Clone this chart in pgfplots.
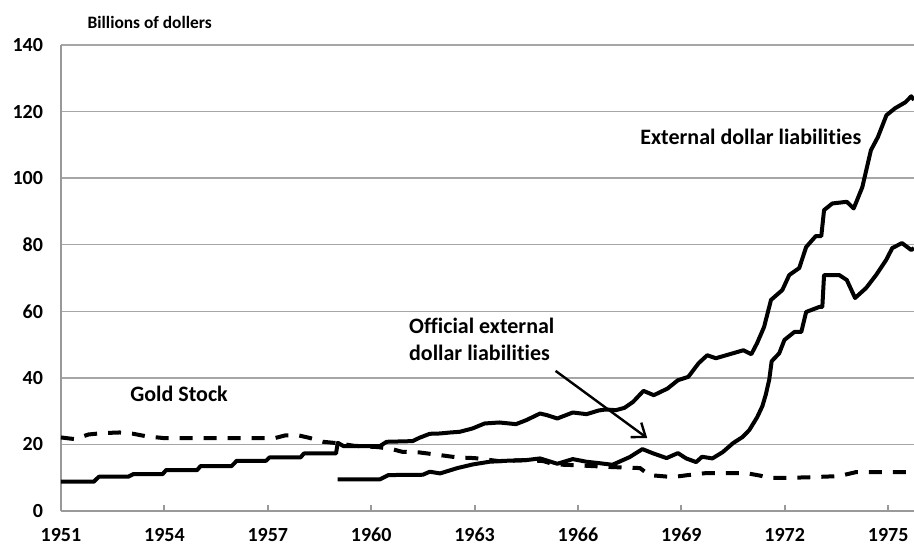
\documentclass[border=0pt]{standalone}
\usepackage{pgfplots}
\pgfplotsset{compat=1.18}
\usepackage{fontspec}
\setmainfont{Carlito}[Ligatures={NoCommon}]
\usetikzlibrary{arrows.meta}
\begin{document}
\begin{tikzpicture}
\begin{axis}[
  width=426.5pt, height=233pt, scale only axis,
  xmin=1951, xmax=1975.75, ymin=0, ymax=140,
  axis x line=bottom, axis y line=left,
  axis line style={-, draw=gray!80, line width=1pt},
  xtick={1951,1954,...,1975}, ytick={0,20,...,140},
  tick align=inside, major tick length=3pt,
  xtick style={draw=gray!80, line width=1pt},
  ytick style={draw=none},
  ymajorgrids, grid style={draw=gray!70, line width=0.7pt},
  /pgf/number format/assume math mode=true,
  xticklabel style={/pgf/number format/1000 sep=, font=\bfseries\fontsize{10}{12}\selectfont, yshift=-5pt},
  yticklabel style={font=\bfseries\fontsize{10}{12}\selectfont, xshift=-5.5pt},
  clip mode=individual,
]
\addplot[black, line width=2pt, line join=round] coordinates {
(1951.0,8.8) (1951.95,8.8) (1952.1,10.3) (1952.95,10.3) (1953.1,11.1) (1953.95,11.1)
(1954.05,12.3) (1954.95,12.3) (1955.05,13.5) (1955.95,13.5) (1956.1,15.1) (1956.95,15.1)
(1957.05,16.1) (1957.95,16.1) (1958.05,17.3) (1958.98,17.3) (1959.03,20.5) (1959.2,19.5)
(1960.25,19.5) (1960.45,20.8) (1961.2,21.0) (1961.4,22.0) (1961.7,23.2) (1962.0,23.3)
(1962.3,23.6) (1962.57,23.8) (1962.94,24.8) (1963.29,26.3) (1963.72,26.6) (1964.2,26.1)
(1964.5,27.3) (1964.9,29.3) (1965.1,28.8) (1965.4,27.8) (1965.85,29.6) (1966.25,29.1)
(1966.6,30.2) (1966.8,30.5) (1967.1,30.3) (1967.35,31.0) (1967.6,32.8) (1967.9,36.1)
(1968.2,34.8) (1968.6,36.8) (1968.9,39.3) (1969.2,40.3) (1969.5,44.4) (1969.75,46.8)
(1970.0,45.9) (1970.5,47.4) (1970.8,48.3) (1971.03,47.1) (1971.2,50.5) (1971.4,55.3)
(1971.6,63.4) (1971.93,66.4) (1972.13,70.9) (1972.42,73.0) (1972.62,79.3) (1972.9,82.6)
(1973.06,82.6) (1973.14,90.4) (1973.38,92.4) (1973.8,92.9) (1974.0,90.9) (1974.25,97.3)
(1974.5,108.4) (1974.7,112.3) (1974.95,118.9) (1975.2,121.0) (1975.5,122.8) (1975.67,124.6)
(1975.75,123.5)
};
\addplot[black, line width=2pt, line join=round] coordinates {
(1959.03,9.5) (1960.25,9.5) (1960.5,10.8) (1961.5,10.9) (1961.7,11.8) (1962.0,11.3)
(1962.5,12.9) (1962.95,14.0) (1963.43,14.8) (1963.93,15.1) (1964.5,15.3) (1964.9,15.8)
(1965.4,14.2) (1965.85,15.6) (1966.25,14.8) (1966.6,14.4) (1967.0,13.9) (1967.5,16.2)
(1967.87,18.6) (1968.16,17.4) (1968.57,15.9) (1968.9,17.4) (1969.14,15.8) (1969.43,14.7)
(1969.6,16.3) (1969.9,15.8) (1970.2,17.7) (1970.5,20.4) (1970.77,22.2) (1970.97,24.3)
(1971.2,28.2) (1971.35,31.5) (1971.45,35.0) (1971.55,39.5) (1971.62,45.0) (1971.84,47.4)
(1971.99,51.4) (1972.28,53.8) (1972.48,53.8) (1972.62,59.8) (1973.0,61.3) (1973.09,61.3)
(1973.14,70.9) (1973.58,70.9) (1973.8,69.4) (1974.04,64.0) (1974.36,67.0) (1974.65,70.9)
(1974.94,75.4) (1975.12,79.0) (1975.4,80.5) (1975.67,78.4) (1975.75,79.0)
};
\addplot[black, line width=2pt, dash pattern=on 6.5pt off 5.5pt] coordinates {
(1951.0,22.1) (1951.4,21.6) (1951.8,23.0) (1952.2,23.4) (1952.7,23.6) (1953.1,23.2)
(1953.5,22.4) (1954.0,21.9) (1957.2,21.9) (1957.5,22.7) (1957.9,22.7) (1958.2,22.0)
(1958.6,20.8) (1959.0,20.4) (1959.5,19.6) (1960.2,19.2) (1960.6,18.6) (1960.9,17.8)
(1961.4,17.6) (1962.0,16.8) (1962.5,16.1) (1963.0,15.9) (1963.7,15.0) (1964.5,15.3)
(1965.0,15.0) (1965.3,14.0) (1965.85,13.8) (1967.0,13.2) (1967.8,12.9) (1968.07,10.8)
(1968.74,10.2) (1969.2,10.8) (1969.72,11.4) (1970.88,11.4) (1971.3,10.6) (1971.55,9.9)
(1972.62,10.1) (1973.58,10.5) (1974.07,11.7) (1975.75,11.7)
};
\draw[black, line width=1.2pt, -{Straight Barb[length=6pt,width=9pt]}] (axis cs:1965.35,42.1) -- (axis cs:1968.01,21.9);
\node[anchor=west, font=\bfseries\fontsize{11}{13.3}\selectfont, inner sep=0pt] at (axis cs:1967.8,112.3) {External dollar liabilities};
\node[anchor=west, align=left, font=\bfseries\fontsize{11}{13.3}\selectfont, inner sep=0pt] at (axis cs:1961.09,51.6) {Official external\\dollar liabilities};
\node[anchor=west, font=\bfseries\fontsize{11}{13.3}\selectfont, inner sep=0pt] at (axis cs:1953.0,35.1) {Gold Stock};
\node[font=\bfseries\fontsize{8.7}{10}\selectfont, inner sep=0pt] at (rel axis cs:0.104,1.049) {Billions of dollers};
\coordinate (BBsw) at (rel axis cs:-0.0715,-0.073);
\coordinate (BBne) at (rel axis cs:1,1.0966);
\end{axis}
\pgfresetboundingbox
\path[use as bounding box] (BBsw) rectangle (BBne);
\end{tikzpicture}
\end{document}
